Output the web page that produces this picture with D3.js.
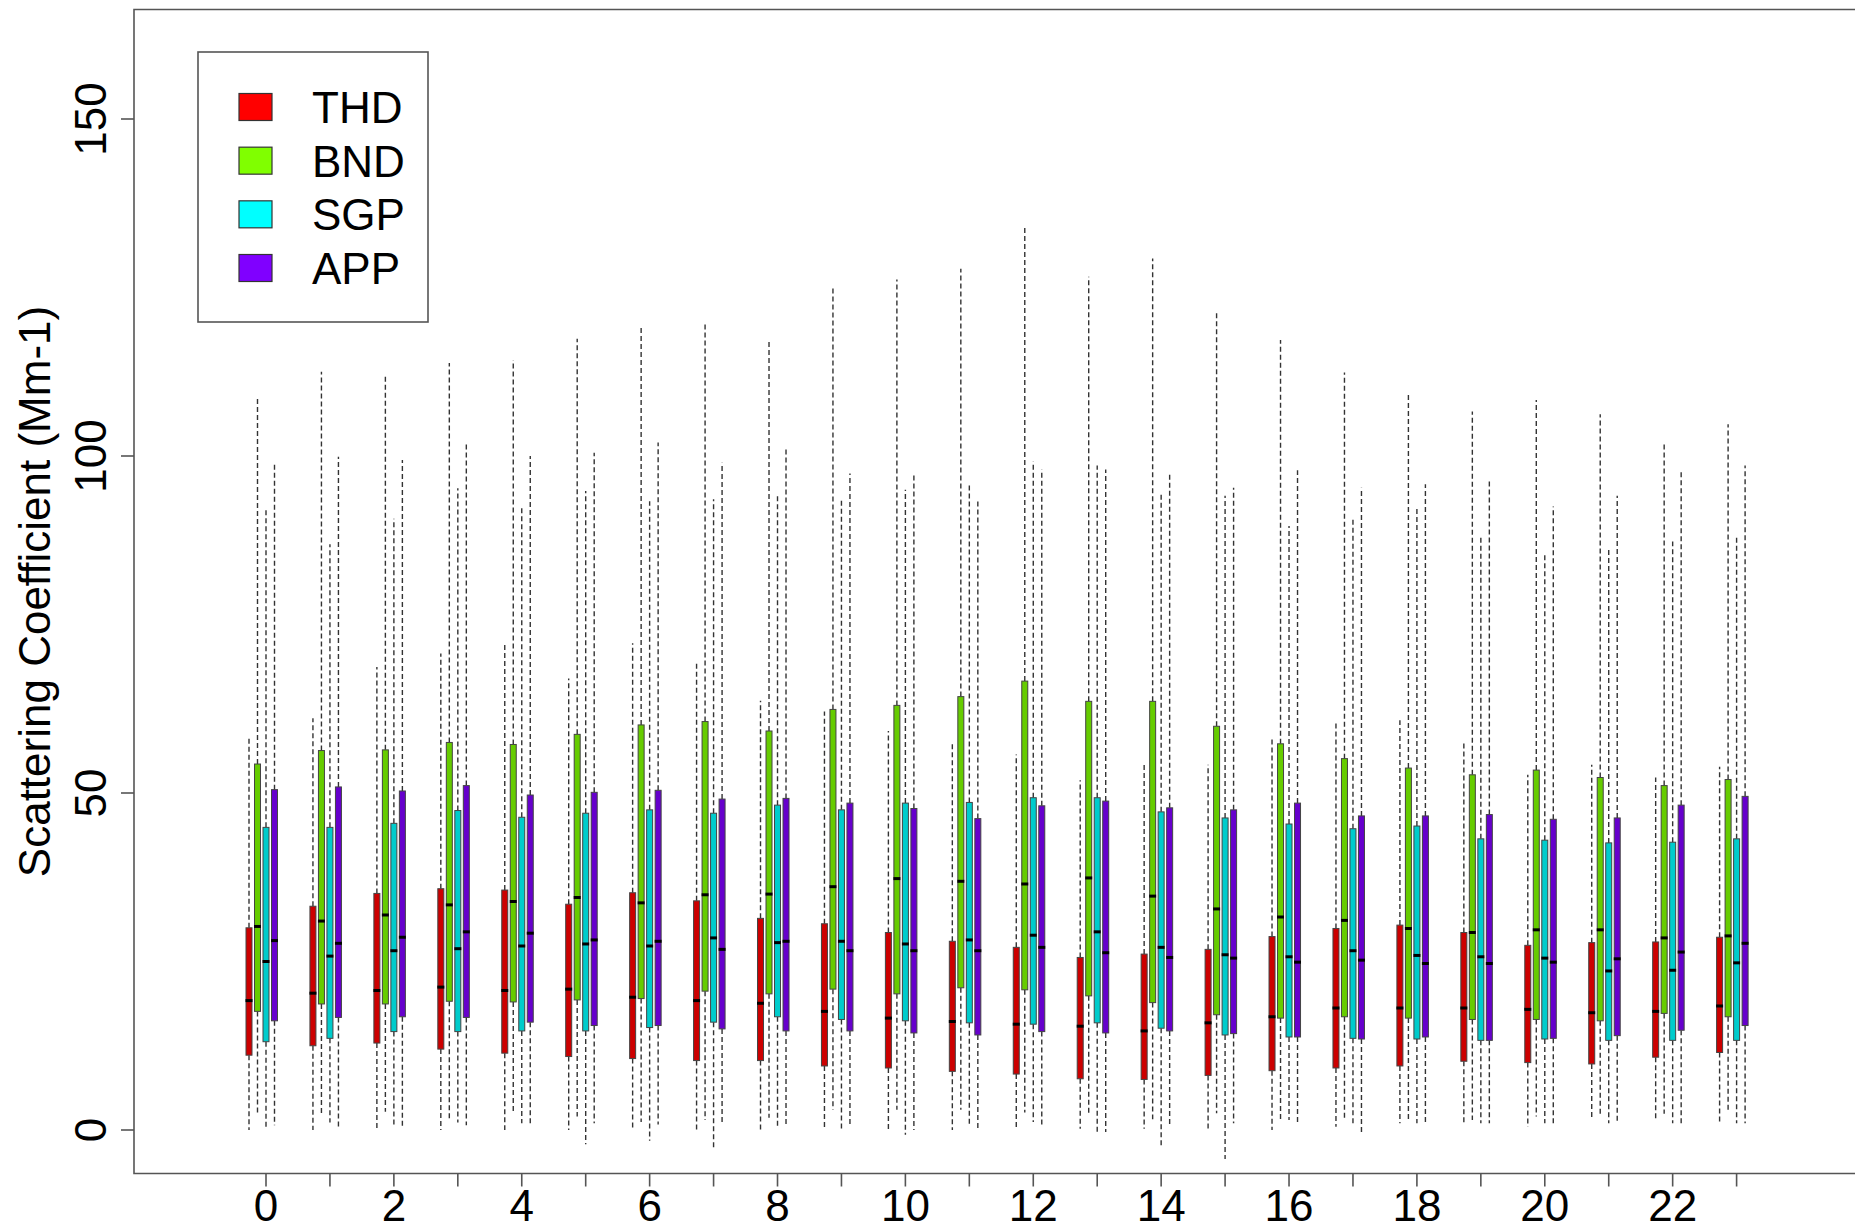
<!DOCTYPE html>
<html>
<head>
<meta charset="utf-8">
<script src="https://cdn.jsdelivr.net/npm/d3@7"></script>
<style>
  body { margin: 0; background: #fff; }
  svg { display: block; font-family: "Liberation Sans", Arial, sans-serif; }
</style>
</head>
<body>
<script>
// hourly box stats per site: [low whisker, q1, median, q3, high whisker]
var hours = d3.range(0, 24)
var hourLabels = [0, 2, 4, 6, 8, 10, 12, 14, 16, 18, 20, 22]
var yTicks = [0, 50, 100, 150]
var sites = ['THD', 'BND', 'SGP', 'APP']
var legendColors = ['#ff0000', '#80ff00', '#00ffff', '#8000ff']
var boxColors = ['#cc0000', '#66cc00', '#00cccc', '#6600cc']

var thd = [
  [0, 11.1, 19.2, 30.0, 58.3], [0, 12.5, 20.3, 33.2, 61.1], [0, 12.9, 20.7, 35.1, 68.7],
  [0, 12.0, 21.2, 35.8, 70.7], [0, 11.4, 20.7, 35.6, 72.2], [0, 10.9, 20.9, 33.5, 67.0],
  [0, 10.6, 19.7, 35.2, 72.2], [0, 10.3, 19.2, 34.0, 69.4], [0, 10.3, 18.8, 31.4, 63.7],
  [0, 9.5, 17.6, 30.6, 62.1], [0, 9.2, 16.6, 29.3, 59.2], [0, 8.7, 16.1, 28.0, 57.3],
  [0, 8.3, 15.7, 27.1, 55.7], [0.2, 7.6, 15.4, 25.6, 51.9], [0.2, 7.5, 14.7, 26.1, 54.5],
  [0, 8.1, 15.9, 26.8, 54.2], [0, 8.8, 16.8, 28.7, 58.4], [0.5, 9.2, 18.1, 29.9, 60.3],
  [1.0, 9.5, 18.1, 30.4, 60.8], [1.0, 10.2, 18.1, 29.3, 57.5], [0.5, 10.0, 17.9, 27.4, 52.7],
  [1.5, 9.8, 17.4, 27.8, 54.2], [1.5, 10.8, 17.6, 27.9, 52.3], [0.8, 11.5, 18.4, 28.6, 53.9]
]
var bnd = [
  [2.4, 17.6, 30.2, 54.3, 108.9], [2.3, 18.7, 31.0, 56.3, 112.5], [2.7, 18.7, 31.9, 56.4, 112.1],
  [1.6, 19.1, 33.4, 57.5, 113.8], [2.7, 19.0, 33.9, 57.2, 114.2], [2.0, 19.3, 34.5, 58.7, 117.4],
  [1.2, 19.5, 33.7, 60.1, 119.3], [1.5, 20.6, 34.9, 60.6, 119.6], [1.8, 20.2, 35.0, 59.2, 117.2],
  [3.0, 20.9, 36.1, 62.4, 125.0], [3.0, 20.2, 37.3, 63.0, 126.2], [3.0, 21.1, 36.9, 64.3, 127.8],
  [2.6, 20.8, 36.5, 66.6, 134.2], [2.1, 19.9, 37.4, 63.6, 126.6], [1.6, 18.9, 34.7, 63.6, 129.3],
  [2.5, 17.1, 32.8, 59.9, 121.4], [1.5, 16.6, 31.6, 57.3, 117.2], [1.5, 16.8, 31.1, 55.1, 112.4],
  [1.5, 16.6, 29.9, 53.7, 109.3], [1.5, 16.4, 29.3, 52.7, 106.6], [2.0, 16.4, 29.7, 53.4, 108.3],
  [2.0, 16.2, 29.7, 52.3, 106.2], [2.4, 17.3, 28.5, 51.1, 101.9], [2.7, 16.8, 28.8, 52.0, 104.7]
]
var sgp = [
  [0.5, 13.1, 25.0, 44.9, 92.4], [1.1, 13.6, 25.8, 44.9, 86.9], [0.7, 14.6, 26.6, 45.5, 90.7],
  [1.1, 14.6, 26.9, 47.4, 95.2], [1.0, 14.7, 27.3, 46.4, 92.7], [-2.1, 14.7, 27.6, 47.0, 94.8],
  [-1.6, 15.2, 27.3, 47.5, 93.3], [-2.6, 16.0, 28.5, 47.0, 93.6], [0.5, 16.8, 27.8, 48.2, 94.4],
  [0, 16.4, 28.0, 47.5, 93.6], [-0.7, 16.2, 27.6, 48.5, 95.0], [0.7, 15.9, 28.2, 48.6, 95.9],
  [1.2, 15.7, 28.9, 49.3, 99.2], [-0.5, 15.9, 29.4, 49.3, 98.6], [-2.4, 15.1, 27.1, 47.2, 94.6],
  [-4.3, 14.1, 26.0, 46.3, 94.1], [1.5, 13.8, 25.7, 45.4, 89.6], [1.0, 13.6, 26.6, 44.7, 90.8],
  [1.0, 13.5, 25.9, 45.1, 92.2], [1.0, 13.3, 25.7, 43.2, 87.9], [1.0, 13.5, 25.5, 43.0, 85.7],
  [1.0, 13.3, 23.6, 42.6, 86.5], [1.0, 13.3, 23.7, 42.7, 87.3], [1.0, 13.3, 24.8, 43.2, 88.0]
]
var app = [
  [0.7, 16.2, 28.1, 50.5, 98.7], [0.5, 16.7, 27.7, 50.9, 99.9], [0.4, 16.8, 28.6, 50.3, 99.4],
  [0.7, 16.7, 29.4, 51.1, 101.9], [1.0, 16.0, 29.2, 49.7, 100.0], [1.0, 15.5, 28.2, 50.1, 100.5],
  [0.8, 15.5, 28.0, 50.4, 102.0], [0.8, 15.0, 26.8, 49.1, 99.0], [0.5, 14.7, 28.0, 49.2, 101.0],
  [0.5, 14.7, 26.6, 48.5, 97.4], [0, 14.4, 26.6, 47.7, 97.1], [0.2, 14.1, 26.6, 46.2, 93.7],
  [0.5, 14.6, 27.1, 48.1, 98.0], [-0.3, 14.4, 26.3, 48.8, 98.0], [0.7, 14.7, 25.6, 47.8, 97.5],
  [1.0, 14.3, 25.5, 47.5, 95.3], [1.0, 13.8, 24.9, 48.5, 97.9], [-0.5, 13.5, 25.2, 46.6, 95.3],
  [1.0, 13.8, 24.7, 46.6, 95.8], [1.0, 13.3, 24.7, 46.8, 96.5], [0.7, 13.6, 24.9, 46.1, 92.5],
  [1.0, 14.0, 25.4, 46.3, 94.1], [1.0, 14.8, 26.4, 48.2, 97.9], [1.0, 15.5, 27.7, 49.5, 98.6]
]
var stats = [thd, bnd, sgp, app]

var width = 1855, height = 1231
var frameLeft = 134, frameTop = 9.5, frameBottom = 1173.5

var svg = d3.select('body').append('svg')
    .attr('width', width)
    .attr('height', height)

var x = d3.scaleLinear().domain([0, 23]).range([266, 1736.6])
var offset = d3.scalePoint().domain(sites).range([-17, 8.5])
var y = d3.scaleLinear().domain([0, 150]).range([1130, 119])

// flatten to one row per box
var boxes = []
stats.forEach(function (rows, s) {
  rows.forEach(function (r, h) {
    boxes.push({ site: sites[s], si: s, hour: h, lo: r[0], q1: r[1], med: r[2], q3: r[3], hi: r[4] })
  })
})

var bw = 6
var cx = function (d) { return x(d.hour) + offset(d.site) }
var g = svg.append('g')

// whiskers
g.selectAll('line.up').data(boxes).enter().append('line')
    .attr('x1', cx).attr('x2', cx)
    .attr('y1', function (d) { return y(d.q3) })
    .attr('y2', function (d) { return y(d.hi) })
    .attr('stroke', '#333')
    .attr('stroke-width', 1.4)
    .attr('stroke-dasharray', '5,3')

g.selectAll('line.down').data(boxes).enter().append('line')
    .attr('x1', cx).attr('x2', cx)
    .attr('y1', function (d) { return y(d.q1) })
    .attr('y2', function (d) { return y(d.lo) })
    .attr('stroke', '#333')
    .attr('stroke-width', 1.4)
    .attr('stroke-dasharray', '5,3')

// boxes
g.selectAll('rect.box').data(boxes).enter().append('rect')
    .attr('x', function (d) { return cx(d) - bw / 2 })
    .attr('y', function (d) { return y(d.q3) })
    .attr('width', bw)
    .attr('height', function (d) { return y(d.q1) - y(d.q3) })
    .attr('fill', function (d) { return boxColors[d.si] })
    .attr('stroke', '#444')
    .attr('stroke-width', 1)

// medians
g.selectAll('line.med').data(boxes).enter().append('line')
    .attr('x1', function (d) { return cx(d) - bw / 2 - 0.5 })
    .attr('x2', function (d) { return cx(d) + bw / 2 + 0.5 })
    .attr('y1', function (d) { return y(d.med) })
    .attr('y2', function (d) { return y(d.med) })
    .attr('stroke', '#000')
    .attr('stroke-width', 3)

// frame (right side falls outside the picture)
svg.append('path')
    .attr('d', 'M1900,' + frameTop + 'H' + frameLeft + 'V' + frameBottom + 'H1900')
    .attr('fill', 'none')
    .attr('stroke', '#555')
    .attr('stroke-width', 1.6)

// y axis
var yAxis = svg.append('g')
yAxis.selectAll('line').data(yTicks).enter().append('line')
    .attr('x1', frameLeft - 13).attr('x2', frameLeft)
    .attr('y1', function (d) { return y(d) })
    .attr('y2', function (d) { return y(d) })
    .attr('stroke', '#555').attr('stroke-width', 1.6)
yAxis.selectAll('text').data(yTicks).enter().append('text')
    .attr('transform', function (d) { return 'translate(106,' + y(d) + ') rotate(-90)' })
    .attr('text-anchor', 'middle')
    .attr('font-size', 44)
    .text(function (d) { return d })

svg.append('text')
    .attr('transform', 'translate(50,' + ((frameTop + frameBottom) / 2) + ') rotate(-90)')
    .attr('text-anchor', 'middle')
    .attr('font-size', 44)
    .text('Scattering Coefficient (Mm-1)')

// x axis
var xAxis = svg.append('g')
xAxis.selectAll('line').data(hours).enter().append('line')
    .attr('x1', function (d) { return x(d) })
    .attr('x2', function (d) { return x(d) })
    .attr('y1', frameBottom).attr('y2', frameBottom + 13)
    .attr('stroke', '#555').attr('stroke-width', 1.6)
xAxis.selectAll('text').data(hourLabels).enter().append('text')
    .attr('x', function (d) { return x(d) })
    .attr('y', 1221)
    .attr('text-anchor', 'middle')
    .attr('font-size', 44)
    .text(function (d) { return d })

// legend
var legend = svg.append('g')
legend.append('rect')
    .attr('x', 198).attr('y', 52)
    .attr('width', 230).attr('height', 270)
    .attr('fill', '#fff')
    .attr('stroke', '#555').attr('stroke-width', 1.6)
var ly = d3.scalePoint().domain(sites).range([107, 268])
legend.selectAll('rect.sw').data(sites).enter().append('rect')
    .attr('x', 239)
    .attr('y', function (d) { return ly(d) - 13.5 })
    .attr('width', 33).attr('height', 27)
    .attr('fill', function (d, i) { return legendColors[i] })
    .attr('stroke', '#333').attr('stroke-width', 1.2)
legend.selectAll('text').data(sites).enter().append('text')
    .attr('x', 312)
    .attr('y', function (d) { return ly(d) + 16 })
    .attr('font-size', 44)
    .text(function (d) { return d })
</script>
</body>
</html>
